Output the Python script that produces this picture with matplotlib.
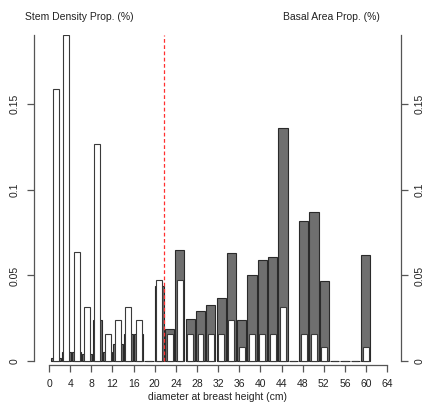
import numpy as np
import matplotlib
matplotlib.use("Agg")
import matplotlib.pyplot as plt

plt.rcParams['font.family'] = ['Liberation Sans', 'DejaVu Sans']

# 2 cm diameter classes (lower edge, cm)
dbh_class = list(range(0, 62, 2))

# proportion of stems per class
stem_density = [0.1587, 0.1905, 0.0635, 0.0317, 0.1270, 0.0159, 0.0238, 0.0317,
                0.0238, 0.0, 0.0476, 0.0159, 0.0476, 0.0159, 0.0159, 0.0159,
                0.0159, 0.0238, 0.0079, 0.0159, 0.0159, 0.0159, 0.0317, 0.0,
                0.0159, 0.0159, 0.0079, 0.0, 0.0, 0.0, 0.0079]

# proportion of basal area per class
basal_area = [0.002, 0.005, 0.005, 0.004, 0.024, 0.005, 0.010, 0.016,
              0.016, 0.0, 0.044, 0.0185, 0.065, 0.0245, 0.029, 0.033,
              0.037, 0.063, 0.024, 0.050, 0.059, 0.061, 0.136, 0.0,
              0.082, 0.087, 0.047, 0.0, 0.0, 0.0, 0.062]

x_ticks = list(range(0, 68, 4))
y_ticks = [0, 0.05, 0.1, 0.15]
y_tick_labels = ["0", "0.05", "0.1", "0.15"]
cutoff_dbh = 21.8

# bar layout (barplot coordinates drawn on the dbh axis)
BAR_OFFSET = 1.32
BAR_STEP = 1.953
pos = BAR_OFFSET + BAR_STEP * np.arange(len(dbh_class))

W, H = 425, 404
fig = plt.figure(figsize=(W / 100, H / 100), dpi=100)
ax_left, ax_right_px, ax_top, ax_bottom = 34, 401, 35, 365
ax = fig.add_axes([ax_left / W, 1 - ax_bottom / H,
                   (ax_right_px - ax_left) / W, (ax_bottom - ax_top) / H])

ymax = max(stem_density)
ax.set_xlim(-2.84, 66.6)
ax.set_ylim(-0.00233, ymax)

ax.bar(pos, basal_area, width=1.75, color="#6f6f6f", edgecolor="#2a2a2a",
       linewidth=0.8, zorder=2)
ax.bar(pos, stem_density, width=1.13, color="white", edgecolor="#3a3a3a",
       linewidth=0.8, zorder=3)

ax.vlines(cutoff_dbh, 0, ymax, colors="#ff3030", linestyles=(0, (3, 2)),
          linewidth=0.9, zorder=4)

axis_col = "#555555"
text_col = "#222222"

ax.spines["top"].set_visible(False)
for side in ("left", "right"):
    ax.spines[side].set_visible(True)
    ax.spines[side].set_bounds(0, ymax)
    ax.spines[side].set_color(axis_col)
    ax.spines[side].set_linewidth(0.9)
ax.spines["bottom"].set_bounds(0, 64)
ax.spines["bottom"].set_color(axis_col)
ax.spines["bottom"].set_linewidth(0.9)

ax.set_xticks(x_ticks)
ax.set_xticklabels([str(v) for v in x_ticks])
ax.tick_params(axis="x", direction="out", length=5, width=0.9, color=axis_col,
               labelsize=7.5, labelcolor=text_col, pad=5)

ax.set_yticks(y_ticks)
ax.set_yticklabels(y_tick_labels, rotation=90, va="center")
ax.tick_params(axis="y", direction="out", length=5, width=0.9, color=axis_col,
               labelsize=7.5, labelcolor=text_col, pad=5,
               left=True, right=True, labelleft=True, labelright=True)
for lab in ax.get_yticklabels(which="both"):
    lab.set_rotation(90)
    lab.set_va("center")
for tick in ax.yaxis.get_major_ticks():
    tick.label2.set_rotation(90)
    tick.label2.set_va("center")

ax.set_xlabel("diameter at breast height (cm)", fontsize=7.5, color=text_col,
              labelpad=2.5)

fig.text(25 / W, 1 - 16.7 / H, "Stem Density Prop. (%)", fontsize=7.5,
         color=text_col, ha="left", va="center")
fig.text(380 / W, 1 - 16.7 / H, "Basal Area Prop. (%)", fontsize=7.5,
         color=text_col, ha="right", va="center")

fig.savefig("out.png", dpi=100, facecolor="white")
